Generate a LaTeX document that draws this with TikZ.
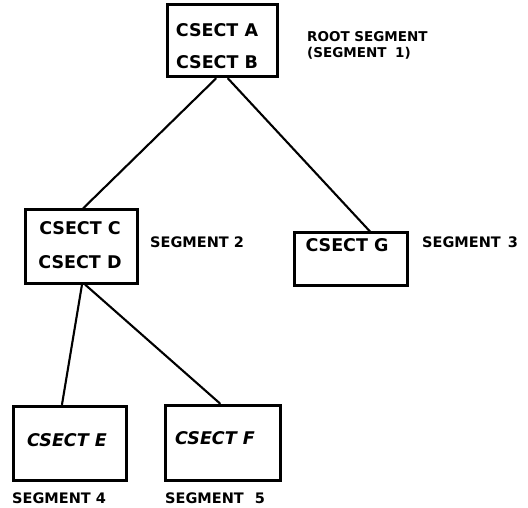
\documentclass[tikz,border=0pt]{standalone}
\usepackage{fontspec}
\setmainfont{DejaVu Sans}
\usetikzlibrary{calc}

\tikzset{
  segbox/.style={draw=black, line width=3pt, fill=white, minimum width=#1, inner sep=0pt},
  csect/.style={font=\fontsize{17.5}{20}\selectfont\bfseries, inner sep=0pt, anchor=center},
  csectit/.style={font=\fontsize{17.5}{20}\selectfont\bfseries\itshape, inner sep=0pt, anchor=center},
  rootlabel/.style={font=\fontsize{13.5}{16}\selectfont\bfseries, inner sep=0pt, anchor=west},
  seglabel/.style={font=\fontsize{14.5}{17}\selectfont\bfseries, inner sep=0pt, anchor=west},
  link/.style={draw=black, line width=2.1pt, line cap=round}
}

\begin{document}
\begin{tikzpicture}[x=1pt, y=-1pt]
  \useasboundingbox (0,0) rectangle (528,508);

  % segment boxes
  \node[segbox=110pt, minimum height=72pt] (A) at (222,41) {};
  \node[segbox=112pt, minimum height=73pt] (CD) at (81,246.5) {};
  \node[segbox=113pt, minimum height=52pt] (G) at (350.5,259) {};
  \node[segbox=113pt, minimum height=74pt] (E) at (69.5,443) {};
  \node[segbox=115pt, minimum height=75pt] (F) at (222.5,442.5) {};

  % control sections inside the boxes
  \node[csect] (ta) at (217,30) {CSECT A};
  \node[csect] (tb) at (217,62) {CSECT B};
  \node[csect] (tc) at (80,228) {CSECT C};
  \node[csect] (td) at (80,262) {CSECT D};
  \node[csect] (tg) at (347,245) {CSECT G};
  \node[csectit] (te) at (67,440) {CSECT E};
  \node[csectit] (tf) at (215,438) {CSECT F};

  % segment names
  \node[rootlabel] (l1a) at (307,37) {ROOT SEGMENT};
  \node[rootlabel] (l1b) at (307,53) {(SEGMENT\hspace{4pt} 1)};
  \node[seglabel] (l2) at (150,242) {SEGMENT 2};
  \node[seglabel] (l3) at (422,242) {SEGMENT\hspace{2pt} 3};
  \node[seglabel] (l4) at (12,498) {SEGMENT 4};
  \node[seglabel] (l5) at (165,498) {SEGMENT\hspace{6pt} 5};

  % tree connections
  \draw[link] ([xshift=-6pt]A.south) -- ([xshift=2pt]CD.north);
  \draw[link] ([xshift=6pt]A.south) -- ([xshift=19.5pt]G.north);
  \draw[link] ([xshift=1pt]CD.south) -- ([xshift=-7.5pt]E.north);
  \draw[link] ([xshift=4pt]CD.south) -- ([xshift=-2.5pt]F.north);
\end{tikzpicture}
\end{document}
